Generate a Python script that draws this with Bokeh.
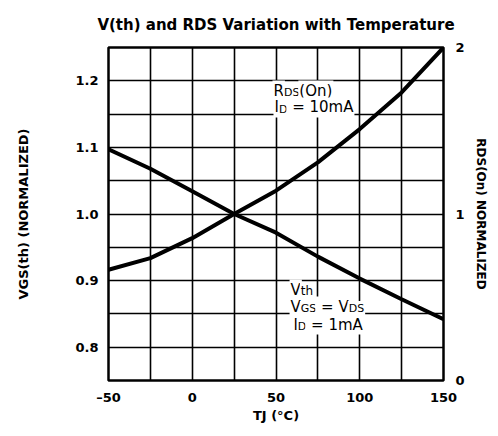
from bokeh.plotting import figure
from bokeh.models import Range1d, LinearAxis, FixedTicker, Label
from bokeh.embed import file_html
from bokeh.resources import INLINE

# ---- data ----
temps = [-50, -25, 0, 25, 50, 75, 100, 125, 150]
vth = [1.097, 1.068, 1.034, 1.000, 0.972, 0.936, 0.903, 0.872, 0.842]
rds = [0.665, 0.735, 0.855, 1.000, 1.14, 1.31, 1.51, 1.73, 2.00]

x_ticks = [-50, 0, 50, 100, 150]
x_tick_labels = ["\u201350", "0", "50", "100", "150"]
left_ticks = [0.8, 0.9, 1.0, 1.1, 1.2]
left_tick_labels = ["0.8", "0.9", "1.0", "1.1", "1.2"]
right_ticks = [0, 1, 2]
right_tick_labels = ["0", "1", "2"]
x_grid = [-50, -25, 0, 25, 50, 75, 100, 125, 150]
y_grid = [0.75, 0.8, 0.85, 0.9, 0.95, 1.0, 1.05, 1.1, 1.15, 1.2, 1.25]

title_text = "V(th) and RDS Variation with Temperature"
x_label = "TJ (\u00b0C)"
left_label = "VGS(th) (NORMALIZED)"
right_label = "RDS(On) NORMALIZED"

FONT = "DejaVu Sans"
REG_W = {' ': .318, '(': .390, ')': .390, '=': .838, '.': .318, '\u00b0': .5,
         'A': .684, 'C': .698, 'D': .770, 'G': .775, 'I': .295, 'J': .295, 'L': .557,
         'M': .863, 'N': .748, 'O': .787, 'R': .695, 'S': .635, 'T': .611, 'V': .684,
         'a': .613, 'h': .634, 'm': .974, 'n': .634, 't': .392, 'e': .615, 'o': .612}


def text_width(t, size):
    return sum(REG_W.get(c, 0.636) for c in t) * size


def rich(p, x, y, pieces, bg="white"):
    cum = 0.0
    for t, s, shift in pieces:
        shown = t.replace(" ", "\u00a0")
        lab = Label(x=x, y=y, text=shown, text_font=FONT, text_font_size=f"{s}px",
                    text_font_style="normal", text_color="black",
                    text_align="left", text_baseline="alphabetic",
                    x_offset=cum, y_offset=-shift,
                    background_fill_color=bg, padding=1)
        p.add_layout(lab)
        cum += text_width(t, s)


p = figure(width=490, height=428, output_backend="svg", toolbar_location=None,
           x_range=Range1d(-50, 150), y_range=Range1d(0.75, 1.25),
           min_border_left=108, min_border_right=47, min_border_top=47, min_border_bottom=48)
p.extra_y_ranges = {"r": Range1d(0, 2)}
p.background_fill_color = "white"
p.border_fill_color = "white"
p.outline_line_color = "black"
p.outline_line_width = 2.5

p.title.text = title_text
p.title.align = "center"
p.title.text_font = FONT
p.title.text_font_style = "bold"
p.title.text_font_size = "15px"
p.title.text_color = "black"
p.title.standoff = 27
p.title.offset = 4

p.xgrid.ticker = FixedTicker(ticks=x_grid)
p.ygrid.ticker = FixedTicker(ticks=y_grid)
for g in (p.xgrid, p.ygrid):
    g.grid_line_color = "black"
    g.grid_line_width = 1.6
    g.grid_line_alpha = 1.0


def style_axis(ax, standoff, label, label_size, label_standoff):
    ax.axis_line_color = None
    ax.major_tick_line_color = None
    ax.minor_tick_line_color = None
    ax.major_tick_out = 0
    ax.major_tick_in = 0
    ax.minor_tick_out = 0
    ax.major_label_standoff = standoff
    ax.major_label_text_font = FONT
    ax.major_label_text_font_style = "bold"
    ax.major_label_text_font_size = "13px"
    ax.major_label_text_color = "black"
    ax.axis_label = label
    ax.axis_label_text_font = FONT
    ax.axis_label_text_font_style = "bold"
    ax.axis_label_text_font_size = label_size
    ax.axis_label_text_color = "black"
    ax.axis_label_standoff = label_standoff


xa = p.xaxis[0]
xa.ticker = FixedTicker(ticks=x_ticks)
xa.major_label_overrides = {t: l for t, l in zip(x_ticks, x_tick_labels)}
style_axis(xa, 9, x_label, "13px", 0)

ya = p.yaxis[0]
ya.ticker = FixedTicker(ticks=left_ticks)
ya.major_label_overrides = {t: l for t, l in zip(left_ticks, left_tick_labels)}
style_axis(ya, 10, left_label, "13px", 41)

ra = LinearAxis(y_range_name="r", ticker=FixedTicker(ticks=right_ticks))
ra.major_label_overrides = {t: l for t, l in zip(right_ticks, right_tick_labels)}
style_axis(ra, 12, right_label, "12px", 6)
p.add_layout(ra, "right")

p.line(temps, vth, line_color="black", line_width=4)
p.line(temps, rds, line_color="black", line_width=4, y_range_name="r")

# curve annotations
rich(p, 47.9, 1.1854, [("R", 15, 0), ("DS", 11, 2), ("(On)", 15, 0)])
rich(p, 48.5, 1.160, [("I", 15, 0), ("D", 11, 2), (" = 10mA", 15, 0)])
rich(p, 58.1, 0.8866, [("V", 15, 0), ("th", 12, 1)])
rich(p, 58.1, 0.861, [("V", 15, 0), ("GS", 11, 2), (" = V", 15, 0), ("DS", 11, 2)])
rich(p, 59.8, 0.834, [("I", 15, 0), ("D", 11, 2), (" = 1mA", 15, 0)])

open("out.html", "w").write(file_html(p, INLINE))
